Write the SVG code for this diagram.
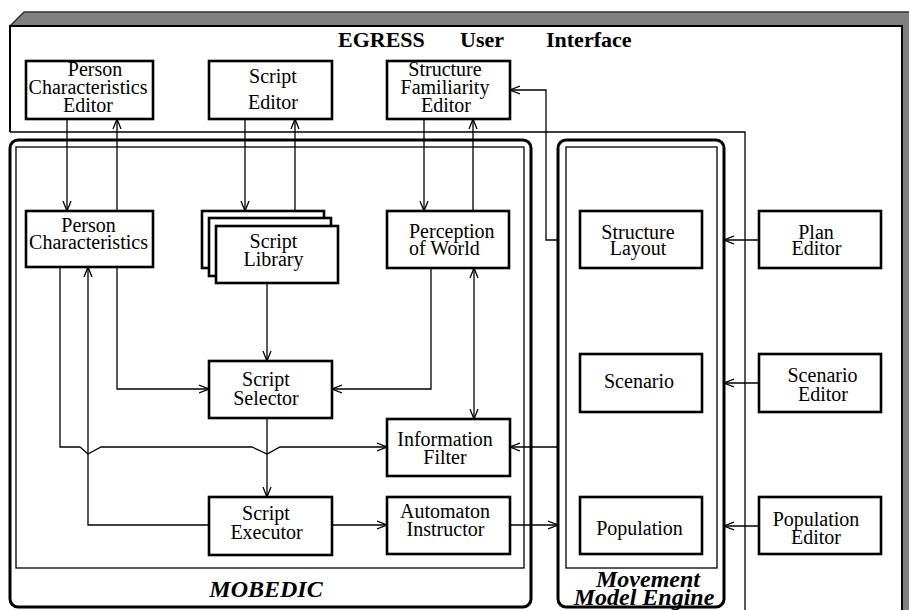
<svg xmlns="http://www.w3.org/2000/svg" width="909" height="610" viewBox="0 0 909 610">
<defs>
<marker id="arr" viewBox="0 0 10 10" refX="10" refY="5" markerWidth="10" markerHeight="10" markerUnits="userSpaceOnUse" orient="auto-start-reverse">
<path d="M0,1 L10,5 L0,9" fill="none" stroke="#000" stroke-width="1.3"/>
</marker>
</defs>
<style>
.t{font-family:"Liberation Serif","Times New Roman",serif;font-size:20px;text-anchor:middle;fill:#000}
.title{font-family:"Liberation Serif","Times New Roman",serif;font-size:22px;font-weight:bold;fill:#000}
.lbl{font-family:"Liberation Serif","Times New Roman",serif;font-size:24px;font-weight:bold;font-style:italic;text-anchor:middle;fill:#000}
.box{fill:#fff;stroke:#000;stroke-width:2.6}
.outer{fill:none;stroke:#000;stroke-width:3}
.inner{fill:none;stroke:#000;stroke-width:1.3}
.c{fill:none;stroke:#000;stroke-width:1.3}
.ca{fill:none;stroke:#000;stroke-width:1.3;marker-end:url(#arr)}
</style>
<rect width="909" height="610" fill="#fff"/>
<g id="ui-frame">
<polygon points="10,26 24,12 909,12 909,610 902,610 902,26" fill="#808080"/>
<path d="M10,26 L24,12 H909" fill="none" stroke="#333" stroke-width="1.5"/>
<path d="M10,132 V26 H902 V610" fill="none" stroke="#000" stroke-width="2"/>
<path d="M10,132 H745 V610" class="inner"/>
<text class="title" y="47"><tspan x="338">EGRESS</tspan><tspan x="460">User</tspan><tspan x="546">Interface</tspan></text>
</g>
<g id="mobedic">
<rect x="10" y="140" width="521" height="467" rx="8" class="outer"/>
<rect x="16" y="147" width="508" height="421" class="inner"/>
<text class="lbl" x="266" y="597">MOBEDIC</text>
</g>
<g id="mme">
<rect x="558" y="140" width="166" height="467" rx="8" class="outer"/>
<rect x="566" y="147" width="151" height="421" class="inner"/>
<text class="lbl" x="648" y="587">Movement</text>
<text class="lbl" x="644" y="605">Model Engine</text>
</g>
<g id="connectors">
<path class="ca" d="M67,119 V211"/>
<path class="ca" d="M117,211 V119"/>
<path class="ca" d="M245,119 V211"/>
<path class="ca" d="M295,211 V119"/>
<path class="ca" d="M424,119 V211"/>
<path class="ca" d="M473,211 V119"/>
<path class="ca" d="M267,283 V361"/>
<path class="ca" d="M117,267 V389 H209"/>
<path class="ca" d="M431,268 V389 H332"/>
<path class="ca" d="M474,268 V419" style="marker-start:url(#arr)"/>
<path class="ca" d="M60,267 V447 H80 L88,454 L101,447 H252 L267,454 L280,447 H387"/>
<path class="ca" d="M209,525 H88 V267"/>
<path class="ca" d="M267,418 V497"/>
<path class="ca" d="M332,525 H387"/>
<path class="ca" d="M510,525 H558"/>
<path class="ca" d="M558,447 H510"/>
<path class="ca" d="M558,240 H546 V90 H510"/>
<path class="ca" d="M759,240 H724"/>
<path class="ca" d="M759,383 H724"/>
<path class="ca" d="M759,526 H724"/>
</g>
<g id="person-characteristics-editor">
<rect class="box" x="26" y="61" width="127" height="58"/>
<text class="t" x="95" y="76">Person</text>
<text class="t" x="88" y="94">Characteristics</text>
<text class="t" x="88" y="112">Editor</text>
</g>
<g id="script-editor">
<rect class="box" x="209" y="61" width="123" height="58"/>
<text class="t" x="273" y="83">Script</text>
<text class="t" x="273" y="109">Editor</text>
</g>
<g id="structure-familiarity-editor">
<rect class="box" x="387" y="61" width="123" height="58"/>
<text class="t" x="445" y="76">Structure</text>
<text class="t" x="445" y="94">Familiarity</text>
<text class="t" x="446" y="112">Editor</text>
</g>
<g id="person-characteristics">
<rect class="box" x="26" y="211" width="127" height="56"/>
<text class="t" x="88.5" y="232">Person</text>
<text class="t" x="88.5" y="249">Characteristics</text>
</g>
<g id="script-library">
<rect class="box" x="202" y="211" width="122" height="57"/>
<rect class="box" x="209" y="218" width="122" height="58"/>
<rect class="box" x="216" y="226" width="122" height="57"/>
<text class="t" x="273.5" y="248">Script</text>
<text class="t" x="273.5" y="266">Library</text>
</g>
<g id="perception-of-world">
<rect class="box" x="387" y="211" width="122" height="57"/>
<text class="t" x="409" y="238" style="text-anchor:start">Perception</text>
<text class="t" x="409" y="255" style="text-anchor:start">of World</text>
</g>
<g id="script-selector">
<rect class="box" x="209" y="361" width="123" height="57"/>
<text class="t" x="266" y="386">Script</text>
<text class="t" x="266" y="405">Selector</text>
</g>
<g id="information-filter">
<rect class="box" x="387" y="419" width="123" height="57"/>
<text class="t" x="445" y="446">Information</text>
<text class="t" x="445" y="464">Filter</text>
</g>
<g id="script-executor">
<rect class="box" x="209" y="497" width="123" height="58"/>
<text class="t" x="266" y="520">Script</text>
<text class="t" x="266.5" y="539">Executor</text>
</g>
<g id="automaton-instructor">
<rect class="box" x="387" y="497" width="123" height="57"/>
<text class="t" x="445" y="518">Automaton</text>
<text class="t" x="445.5" y="536">Instructor</text>
</g>
<g id="structure-layout">
<rect class="box" x="580" y="211" width="122" height="57"/>
<text class="t" x="638" y="239">Structure</text>
<text class="t" x="638" y="255">Layout</text>
</g>
<g id="scenario">
<rect class="box" x="580" y="354" width="122" height="58"/>
<text class="t" x="639" y="388">Scenario</text>
</g>
<g id="population">
<rect class="box" x="580" y="497" width="122" height="57"/>
<text class="t" x="639.5" y="535">Population</text>
</g>
<g id="plan-editor">
<rect class="box" x="759" y="211" width="122" height="57"/>
<text class="t" x="816" y="239">Plan</text>
<text class="t" x="816.5" y="255">Editor</text>
</g>
<g id="scenario-editor">
<rect class="box" x="759" y="354" width="122" height="58"/>
<text class="t" x="822.5" y="382">Scenario</text>
<text class="t" x="823" y="401">Editor</text>
</g>
<g id="population-editor">
<rect class="box" x="759" y="497" width="122" height="57"/>
<text class="t" x="816" y="526">Population</text>
<text class="t" x="816" y="544">Editor</text>
</g>
</svg>
